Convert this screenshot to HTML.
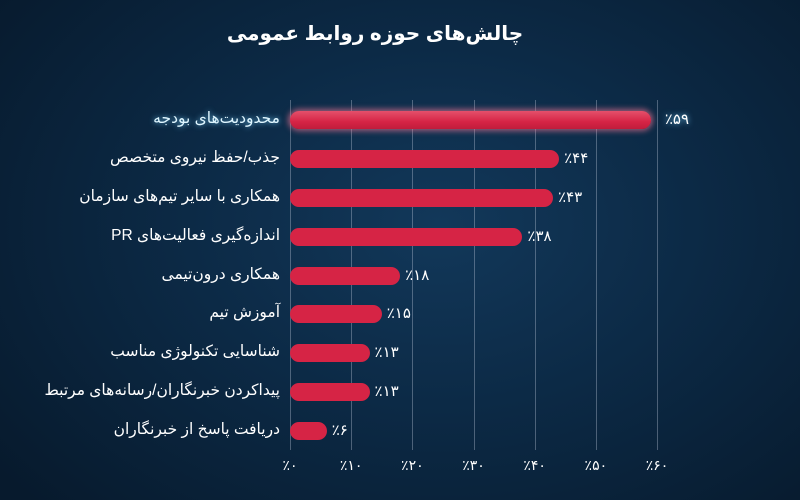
<!DOCTYPE html>
<html><head><meta charset="utf-8">
<style>
html,body{margin:0;padding:0}
body{width:800px;height:500px;overflow:hidden;position:relative;
background:radial-gradient(ellipse 70% 80% at 55% 45%,#12385a 0%,#0c2a46 45%,#071a2d 100%);
font-family:"Liberation Sans","Noto Sans CJK SC","DejaVu Sans",sans-serif;color:#fff}
.t{position:absolute;white-space:nowrap;direction:rtl}
.grid{position:absolute;width:1px;background:rgba(200,210,225,0.35);top:100px;height:350px}
.bar{position:absolute;height:18px;border-radius:9px;background:#d62445}
</style></head>
<body>
<div class="t" style="top:21px;left:0;width:750px;text-align:center;font-size:20px;font-weight:bold">چالش‌های حوزه روابط عمومی</div>
<div id="chart"></div>
<script>
const categories=["محدودیت‌های بودجه","جذب/حفظ نیروی متخصص","همکاری با سایر تیم‌های سازمان","اندازه‌گیری فعالیت‌های PR","همکاری درون‌تیمی","آموزش تیم","شناسایی تکنولوژی مناسب","پیداکردن خبرنگاران/رسانه‌های مرتبط","دریافت پاسخ از خبرنگاران"];
const values=[59,44,43,38,18,15,13,13,6];
const ticks=[0,10,20,30,40,50,60];
const fa=n=>String(n).replace(/\d/g,d=>"۰۱۲۳۴۵۶۷۸۹"[d]);
const x0=290,x1=657,vmax=60;
const xs=v=>x0+(v/vmax)*(x1-x0);
const yTop=100,yBot=453,n=categories.length;
const band=(yBot-yTop-4)/n;
const yc=i=>yTop+band*(i+0.5)+1;
const root=document.getElementById('chart');
ticks.forEach(t=>{
 const g=document.createElement('div');g.className='grid';g.style.left=Math.round(xs(t))+'px';
 
 
 root.appendChild(g);
 const l=document.createElement('div');l.className='t';
 
 
 l.style.cssText=`left:${xs(t)-30}px;width:60px;text-align:center;top:457px;font-size:14px`;
 l.textContent='٪'+fa(t);l.style.direction='ltr';
 root.appendChild(l);
});
categories.forEach((c,i)=>{
 const y=yc(i),v=values[i];
 const b=document.createElement('div');b.className='bar';
 
 
 b.style.left=x0+'px';b.style.top=(y-9)+'px';b.style.width=(xs(v)-x0)+'px';
 if(i===0){b.style.background='linear-gradient(#e4506b,#d62445 60%,#c01c3c)';b.style.boxShadow='0 0 6px 2px rgba(255,120,150,0.6)';}
 root.appendChild(b);
 const lab=document.createElement('div');lab.className='t';
 
 
 lab.style.cssText=`right:${800-280}px;top:${y-11}px;font-size:15.5px;text-align:right`;
 if(i===0){lab.style.color='#dff6ff';lab.style.textShadow='0 0 6px rgba(120,210,255,0.9)';}
 lab.textContent=c;root.appendChild(lab);
 const vl=document.createElement('div');vl.className='t';
 
 
 vl.style.cssText=`left:${xs(v)+5}px;top:${y-10}px;font-size:15px;direction:ltr`;
 if(i===0){vl.style.textShadow='0 0 6px rgba(120,210,255,0.9)';vl.style.left=(xs(v)+14)+'px';}
 vl.textContent='٪'+fa(v);root.appendChild(vl);
});
</script>
</body></html>
